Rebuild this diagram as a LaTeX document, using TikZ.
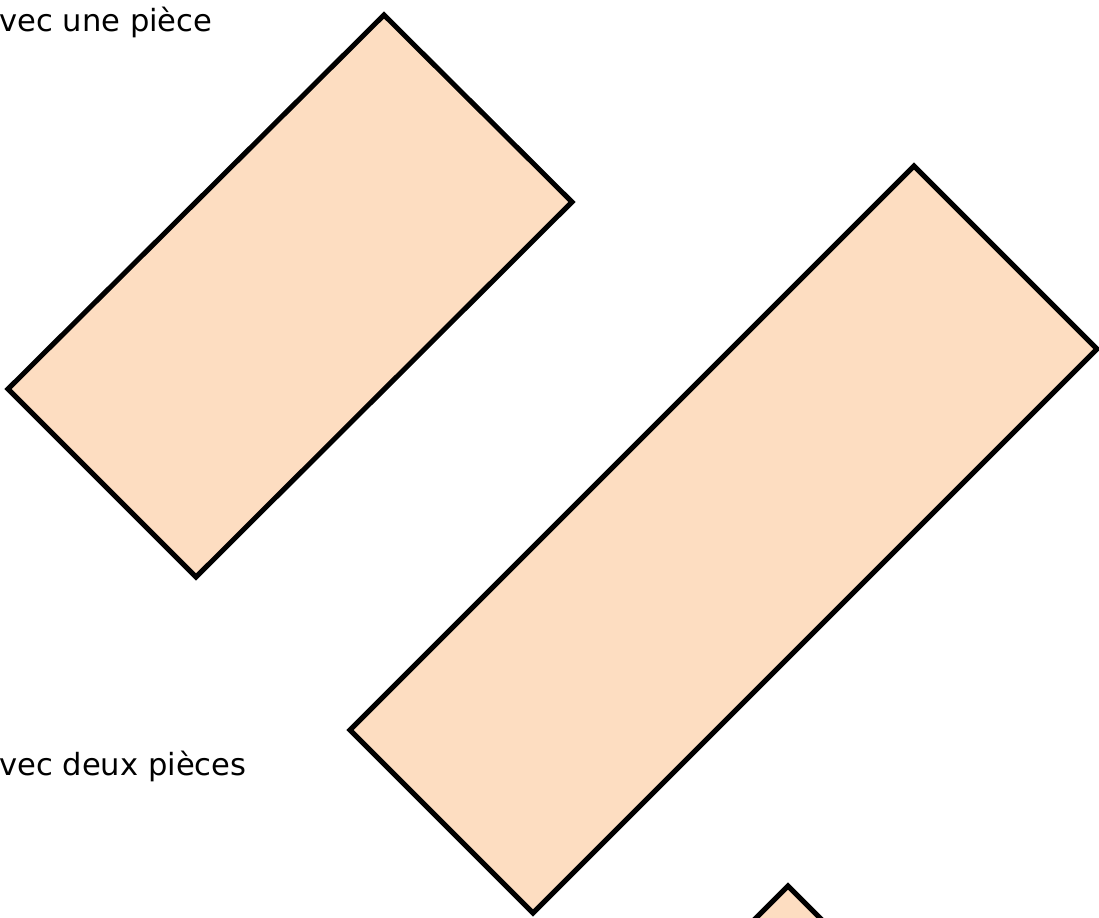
\documentclass[tikz,border=0pt]{standalone}
\usepackage{fontspec}
\usepackage{tikz}
\usepackage{xcolor}
\newfontfamily\labelfont{DejaVu Sans}
\definecolor{piecefill}{RGB}{253,221,193}

\begin{document}
\begin{tikzpicture}[
  x=0.02cm, y=-0.02cm,
  piece/.style={draw=black, line width=0.1cm, line join=miter, fill=piecefill},
  caption/.style={anchor=base west, inner sep=0pt, font=\labelfont\fontsize{17.4}{20}\selectfont},
]
\useasboundingbox (0,0) rectangle (1099,918);
\clip (0,0) rectangle (1099,918);
% Labels
\node[caption] (une) at (-1,32) {vec une pièce};
\node[caption] (deux) at (-1,775) {vec deux pièces};
% One piece
\draw[piece] (384,15) -- (572,202) -- (196,577) -- (8,389) -- cycle;
% Two pieces
\draw[piece] (914,166) -- (1097,349) -- (533,913) -- (350,730) -- cycle;
\draw[piece] (788,886) -- (976,1074) -- (600,1450) -- (412,1262) -- cycle;
\end{tikzpicture}
\end{document}
